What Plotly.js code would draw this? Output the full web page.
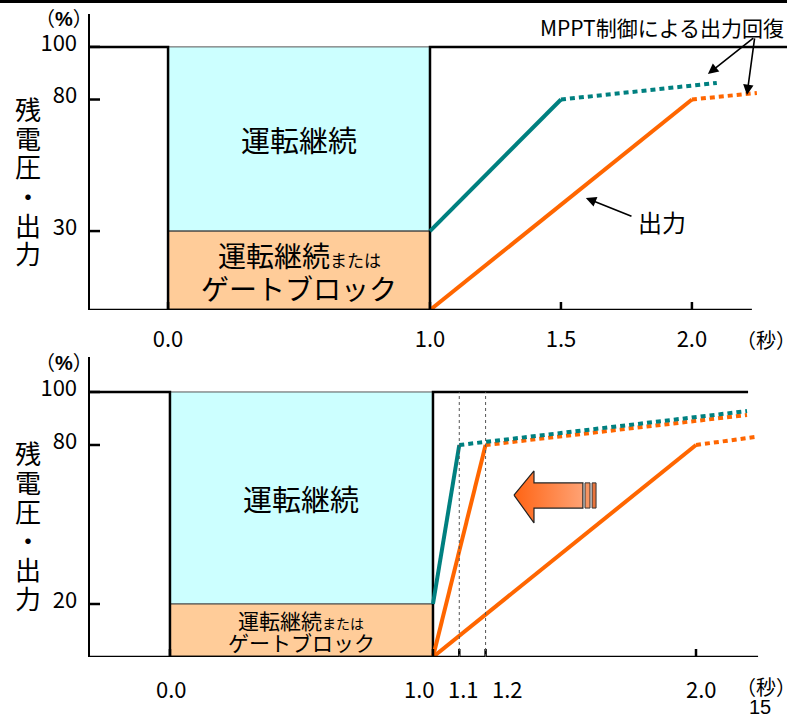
<!DOCTYPE html>
<html>
<head>
<meta charset="utf-8">
<script src="https://cdn.plot.ly/plotly-3.0.1.min.js"></script>
<style>
  html, body { margin: 0; padding: 0; background: #fff; }
  #chart { width: 800px; height: 719px; }
</style>
</head>
<body>
<div id="chart"></div>
<script>
// ---- 上段：現行の復帰特性 ----
const topTickX = [0, 1.0, 1.5, 2.0];
const topTickXText = ['0.0', '1.0', '1.5', '2.0'];
const topTickY = [30, 80, 100];
const topVoltX = [-0.4, 0, 0, 1.0, 1.0, 2.5];
const topVoltY = [100, 100, 0, 0, 100, 100];
const topBoxSplit = 30;
const topTealSolidX = [1.0, 1.5];
const topTealSolidY = [30, 80];
const topTealDotX = [1.5, 2.095];
const topTealDotY = [80, 86.3];
const topOrangeSolidX = [1.0, 2.0];
const topOrangeSolidY = [0, 80];
const topOrangeDotX = [2.0, 2.248];
const topOrangeDotY = [80, 82.5];
const topAxisEnd = 2.229;

// ---- 下段：復帰時間を短縮した場合 ----
const botTickX = [0, 1.0, 1.1, 1.2, 2.0];
const botTickXText = ['0.0', '1.0', '1.1', '1.2', '2.0'];
const botTickLabelShift = [2, -13, 4, 22, 5];   // 詰まった目盛ラベルの横ずらし(px)
const botTickY = [20, 80, 100];
const botVoltX = [-0.4, 0, 0, 1.0, 1.0, 2.198];
const botVoltY = [100, 100, 0, 0, 100, 100];
const botBoxSplit = 20;
const botTealSolidX = [1.0, 1.1];
const botTealSolidY = [20, 80];
const botTealDotX = [1.1, 2.194];
const botTealDotY = [80, 92.8];
const botFastSolidX = [1.0, 1.2];
const botFastSolidY = [0, 80];
const botFastDotX = [1.2, 2.194];
const botFastDotY = [80, 91.3];
const botSlowSolidX = [1.0, 2.0];
const botSlowSolidY = [0, 80];
const botSlowDotX = [2.0, 2.224];
const botSlowDotY = [80, 83];
const botGuideX = [1.1, 1.2];
const botAxisEnd = 2.236;

// 短縮を示すブロック矢印（下段の座標系）
const shiftArrowX = [1.308, 1.384, 1.384, 1.570, 1.570, 1.384, 1.384, 1.308];
const shiftArrowY = [61.1, 70.2, 65.7, 65.7, 56.2, 56.2, 50.6, 61.1];
const stripe1X = [1.578, 1.597, 1.597, 1.578, 1.578];
const stripe2X = [1.605, 1.620, 1.620, 1.605, 1.605];
const stripeY = [65.7, 65.7, 56.2, 56.2, 65.7];

const W = 800, H = 719;
const M = {l: 90, r: 13, t: 14, b: 62};
const plotW = W - M.l - M.r, plotH = H - M.t - M.b;
const px = p => (p - M.l) / plotW;
const py = p => (H - M.b - p) / plotH;

const FONT = '"Noto Sans CJK JP", "Noto Sans", sans-serif';
const LATIN = '"Liberation Sans", Arial, "Noto Sans CJK JP", sans-serif';
const TEAL = '#008080', ORANGE = '#FF6600';
const DOTS = '5px,4px';

function line(x, y, color, width, dash, xa, ya) {
  return {x, y, xaxis: xa, yaxis: ya, type: 'scatter', mode: 'lines',
    line: {color, width, dash: dash || 'solid'}, hoverinfo: 'skip', showlegend: false};
}

const traces = [
  line(topVoltX, topVoltY, '#000', 2.5, null, 'x', 'y'),
  line(topTealSolidX, topTealSolidY, TEAL, 4, null, 'x', 'y'),
  line(topTealDotX, topTealDotY, TEAL, 4, DOTS, 'x', 'y'),
  line(topOrangeSolidX, topOrangeSolidY, ORANGE, 4, null, 'x', 'y'),
  line(topOrangeDotX, topOrangeDotY, ORANGE, 4, DOTS, 'x', 'y'),

  line(botVoltX, botVoltY, '#000', 2.5, null, 'x2', 'y2'),
  line(botSlowSolidX, botSlowSolidY, ORANGE, 4, null, 'x2', 'y2'),
  line(botSlowDotX, botSlowDotY, ORANGE, 4, DOTS, 'x2', 'y2'),
  line(botFastSolidX, botFastSolidY, ORANGE, 4, null, 'x2', 'y2'),
  line(botFastDotX, botFastDotY, ORANGE, 4, DOTS, 'x2', 'y2'),
  line(botTealSolidX, botTealSolidY, TEAL, 4, null, 'x2', 'y2'),
  line(botTealDotX, botTealDotY, TEAL, 4, DOTS, 'x2', 'y2'),

  {x: shiftArrowX, y: shiftArrowY, xaxis: 'x2', yaxis: 'y2', type: 'scatter', mode: 'lines',
    fill: 'toself', fillgradient: {type: 'horizontal', colorscale: [[0, '#FF6414'], [1, '#FFA274']]},
    line: {color: '#222', width: 1.2}, hoverinfo: 'skip', showlegend: false},
  {x: stripe1X, y: stripeY, xaxis: 'x2', yaxis: 'y2', type: 'scatter', mode: 'lines',
    fill: 'toself', fillcolor: '#F59462', line: {color: '#333', width: 1}, hoverinfo: 'skip', showlegend: false},
  {x: stripe2X, y: stripeY, xaxis: 'x2', yaxis: 'y2', type: 'scatter', mode: 'lines',
    fill: 'toself', fillcolor: '#E8743C', line: {color: '#333', width: 1}, hoverinfo: 'skip', showlegend: false}
];

const shapes = [];
// 運転継続 / ゲートブロックの領域
function boxes(split, xr, yr) {
  shapes.push({type: 'rect', xref: xr, yref: yr, x0: 0, x1: 1, y0: split, y1: 100,
    fillcolor: '#CCFFFF', line: {color: '#555', width: 1}, layer: 'below'});
  shapes.push({type: 'rect', xref: xr, yref: yr, x0: 0, x1: 1, y0: 0, y1: split,
    fillcolor: '#FFCC99', line: {color: '#444', width: 1.2}, layer: 'below'});
}
boxes(topBoxSplit, 'x', 'y');
boxes(botBoxSplit, 'x2', 'y2');

// 横軸の線と目盛（軸線をまたぐ短い線）
const X1 = [-0.298, 2.363], X2 = [-0.304, 2.346];
shapes.push({type: 'line', xref: 'x', yref: 'y', x0: X1[0], x1: topAxisEnd, y0: 0, y1: 0, line: {color: '#000', width: 2.5}});
shapes.push({type: 'line', xref: 'x2', yref: 'y2', x0: X2[0], x1: botAxisEnd, y0: 0, y1: 0, line: {color: '#000', width: 2.5}});
function xTicks(vals, xr, yr) {
  vals.forEach(v => shapes.push({type: 'line', xref: xr, yref: yr, ysizemode: 'pixel', yanchor: 0,
    x0: v, x1: v, y0: -8, y1: 8, line: {color: '#000', width: 2.5}}));
}
function yTicks(vals, xr, yr, x0) {
  vals.forEach(v => shapes.push({type: 'line', xref: xr, yref: yr, xsizemode: 'pixel', xanchor: x0,
    x0: -10, x1: 10, y0: v, y1: v, line: {color: '#000', width: 2.5}}));
}
xTicks(topTickX, 'x', 'y');
xTicks(botTickX, 'x2', 'y2');
yTicks(topTickY, 'x', 'y', X1[0]);
yTicks(botTickY, 'x2', 'y2', X2[0]);

// 1.1秒・1.2秒の補助線
botGuideX.forEach(v => shapes.push({type: 'line', xref: 'x2', yref: 'y2', x0: v, x1: v, y0: 0, y1: 100,
  line: {color: '#555', width: 1, dash: 'dot'}}));

// ページ上端の罫線
shapes.push({type: 'line', xref: 'paper', yref: 'paper', x0: px(0), x1: px(787), y0: py(1.5), y1: py(1.5),
  line: {color: '#000', width: 3}});

const annotations = [];
function txt(text, xPix, yPix, size, family) {
  annotations.push({text, xref: 'paper', yref: 'paper', x: px(xPix), y: py(yPix),
    xanchor: 'center', yanchor: 'middle', showarrow: false,
    font: {family: family || FONT, size, color: '#000'}});
}
function dataTxt(text, x, y, xr, yr, size, yshift) {
  annotations.push({text, xref: xr, yref: yr, x, y, yshift: yshift || 0, showarrow: false,
    xanchor: 'center', yanchor: 'middle', font: {family: FONT, size, color: '#000'}});
}
function arrow(x, y, ax, ay, xr, yr) {
  annotations.push({text: '', xref: xr, yref: yr, axref: xr, ayref: yr, x, y, ax, ay,
    showarrow: true, arrowhead: 2, arrowsize: 1.3, arrowwidth: 1.6, arrowcolor: '#000'});
}

// 縦軸タイトル（縦書き）
const yTitle = ['残', '電', '圧', '・', '出', '力'];
yTitle.forEach((c, i) => {
  txt(c, 28, 108 + i * 29, 26);
  txt(c, 28, 452 + i * 29, 26);
});
txt('（<b>%</b>）', 64, 19, 20, LATIN);
txt('（<b>%</b>）', 64, 363, 20, LATIN);
txt('（秒）', 766, 339, 20);
txt('（秒）', 766, 686, 20);
txt('15', 760, 707, 20, LATIN);

// 下段の横軸目盛ラベル（1.0〜1.2は間隔が狭いので横にずらす）
botTickX.forEach((v, i) => annotations.push({text: botTickXText[i], xref: 'x2', yref: 'paper',
  x: v, y: py(688), xshift: botTickLabelShift[i], xanchor: 'center', yanchor: 'middle', showarrow: false,
  font: {family: FONT, size: 22, color: '#000'}}));

// 領域内の文字
dataTxt('運転継続', 0.5, 65, 'x', 'y', 29);
dataTxt('運転継続<span style="font-size:17px">または</span>', 0.5, 15, 'x', 'y', 28, 16);
dataTxt('ゲートブロック', 0.5, 15, 'x', 'y', 28, -17);
dataTxt('運転継続', 0.5, 60, 'x2', 'y2', 29);
dataTxt('運転継続<span style="font-size:14px">または</span>', 0.5, 10, 'x2', 'y2', 21, 11);
dataTxt('ゲートブロック', 0.5, 10, 'x2', 'y2', 21, -11);

// 説明と矢印
txt('MPPT制御による出力回復', 662, 27, 21);
arrow(2.061, 89.7, 2.24, 103.8, 'x', 'y');
arrow(2.21, 81.7, 2.24, 103.8, 'x', 'y');
txt('出力', 662, 222, 24);
arrow(1.595, 42.6, 1.775, 35.4, 'x', 'y');

const axisY = (domain, range, vals) => ({
  domain, range, tickvals: vals, ticktext: vals.map(String), ticks: '',
  showline: true, linecolor: '#000', linewidth: 2.5, showgrid: false, zeroline: false,
  tickfont: {family: FONT, size: 22, color: '#000'}, ticklabelstandoff: 6, ticklabelshift: -4,
  fixedrange: true
});
const axisX = (range, anchor, vals, texts, showLabels) => ({
  range, anchor, tickvals: vals, ticktext: texts, ticks: '', tickangle: 0,
  showticklabels: showLabels,
  showline: false, showgrid: false, zeroline: false,
  tickfont: {family: FONT, size: 22, color: '#000'}, ticklabelstandoff: 14, fixedrange: true
});

const layout = {
  width: W, height: H,
  margin: M,
  paper_bgcolor: '#fff', plot_bgcolor: '#fff',
  showlegend: false,
  xaxis: axisX(X1, 'y', topTickX, topTickXText, true),
  yaxis: axisY([py(310), 1], [0, 112.5], topTickY),
  xaxis2: axisX(X2, 'y2', botTickX, botTickXText, false),
  yaxis2: axisY([0, py(357)], [0, 113.2], botTickY),
  shapes, annotations
};

Plotly.newPlot('chart', traces, layout, {displayModeBar: false, staticPlot: true});
</script>
</body>
</html>
